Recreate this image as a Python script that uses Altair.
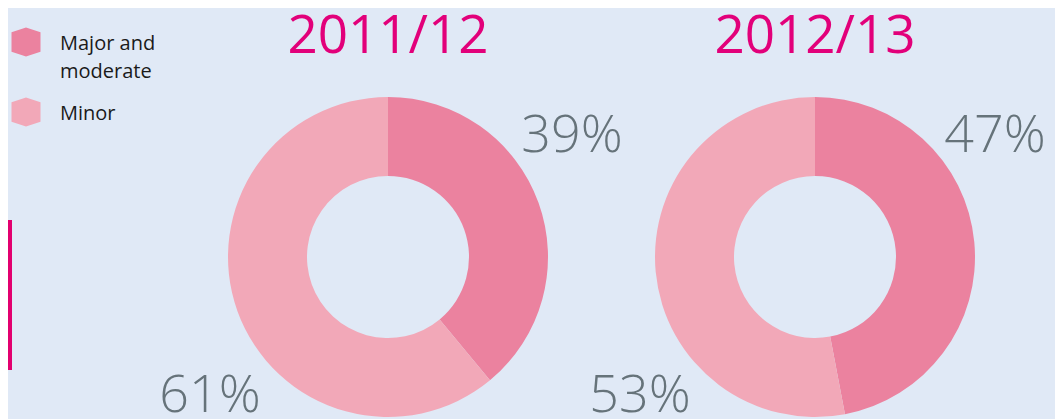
import altair as alt
import pandas as pd

years = ["2011/12", "2012/13"]
categories = ["Major and moderate", "Minor"]
major_pct = [39, 47]
minor_pct = [61, 53]
legend_labels = ["Major and\nmoderate", "Minor"]

BG = "#E0E9F6"
MAJOR_C = "#EB829F"
MINOR_C = "#F2A8B8"
TITLE_C = "#E2007A"
LABEL_C = "#66737A"
FONT = "Open Sans"

rows = []
for i, y in enumerate(years):
    rows.append({"year": y, "category": categories[0], "value": major_pct[i], "order": 0, "label": f"{major_pct[i]}%"})
    rows.append({"year": y, "category": categories[1], "value": minor_pct[i], "order": 1, "label": f"{minor_pct[i]}%"})
df = pd.DataFrame(rows)
leg = pd.DataFrame({"category": categories, "text": legend_labels})
ydf = pd.DataFrame({"year": years})

centers = {"2011/12": 380, "2012/13": 807}
CY = 249
color_scale = alt.Scale(domain=categories, range=[MAJOR_C, MINOR_C])

layers = []
for y in years:
    arc = alt.Chart(df).transform_filter(alt.datum.year == y).mark_arc(
        outerRadius=160, innerRadius=81, stroke=None
    ).encode(
        theta=alt.Theta("value:Q", stack=True),
        color=alt.Color("category:N", scale=color_scale, legend=None),
        order=alt.Order("order:Q"),
        x=alt.value(centers[y]),
        y=alt.value(CY),
    )
    layers.append(arc)

# titles
for y in years:
    t = alt.Chart(ydf).transform_filter(alt.datum.year == y).mark_text(
        font=FONT, fontSize=53, color=TITLE_C, align="center", baseline="alphabetic"
    ).encode(text="year:N", x=alt.value(centers[y]), y=alt.value(45))
    layers.append(t)

# percent labels
offsets = {categories[0]: (184, 144), categories[1]: (-178, 404)}
for y in years:
    for c in categories:
        dx, yy = offsets[c]
        if y == "2012/13":
            dx = dx - 4 if c == categories[0] else dx + 3
        t = alt.Chart(df).transform_filter(
            (alt.datum.year == y) & (alt.datum.category == c)
        ).mark_text(
            font=FONT, fontSize=52, fontWeight=300, color=LABEL_C,
            align="center", baseline="alphabetic"
        ).encode(text="label:N", x=alt.value(centers[y] + dx), y=alt.value(yy))
        layers.append(t)

# legend (manual)
hexagon = "M0,-1L1,-0.68L1,0.68L0,1L-1,0.68L-1,-0.68Z"
leg_y = alt.Y("category:N",
              scale=alt.Scale(type="point", domain=categories, range=[34, 104], padding=0),
              axis=None)
sym = alt.Chart(leg).mark_point(shape=hexagon, size=841, filled=True, opacity=1, strokeWidth=0).encode(
    x=alt.value(18), y=leg_y,
    color=alt.Color("category:N", scale=color_scale, legend=None),
)
txt = alt.Chart(leg).mark_text(
    font=FONT, fontSize=20, color="#1A1A1A", align="left", baseline="middle",
    lineBreak="\n", lineHeight=28, dy=2
).encode(x=alt.value(52), y=leg_y, text="text:N")
layers += [sym, txt]

# left accent bar
bar = alt.Chart(pd.DataFrame({"a": [1]})).mark_rect(color="#E2006F").encode(
    x=alt.value(0), x2=alt.value(4), y=alt.value(212), y2=alt.value(362)
)
layers.append(bar)

chart = alt.layer(*layers).properties(
    width=1047, height=411, background=BG, padding=0,
    autosize=alt.AutoSizeParams(type="none")
).configure_view(stroke=None)

chart.save("out.html", embed_options={"renderer": "svg", "actions": False})
